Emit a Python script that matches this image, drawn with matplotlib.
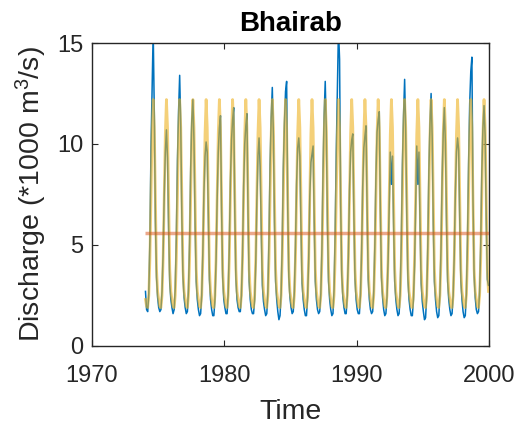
import numpy as np
import matplotlib
matplotlib.use("Agg")
import matplotlib.pyplot as plt

plt.rcParams['font.family'] = ['Liberation Sans', 'DejaVu Sans']
plt.rcParams['mathtext.fontset'] = 'custom'
plt.rcParams['mathtext.rm'] = 'Liberation Sans'
plt.rcParams['mathtext.it'] = 'Liberation Sans'

# Data (values in *1000 m^3/s)
start_year = 1974
observed = [
    [2.7, 1.8, 1.7, 2.6, 5.2, 9.8, 12.6, 15.6, 11.5, 6.2, 3.4, 2.4],   # 1974
    [1.9, 1.7, 1.8, 2.7, 4.6, 7.5, 9.6, 10.7, 9.3, 5.8, 3.1, 2.3],     # 1975
    [1.9, 1.6, 1.8, 2.9, 5.4, 9.2, 11.6, 13.4, 10.8, 6.3, 3.4, 2.4],   # 1976
    [1.9, 1.6, 1.7, 2.8, 5.1, 8.8, 11.2, 12.2, 10.1, 6.0, 3.2, 2.3],   # 1977
    [1.8, 1.5, 1.6, 2.5, 4.6, 7.6, 9.4, 10.1, 9.6, 6.4, 3.3, 2.3],     # 1978
    [1.8, 1.5, 1.5, 2.3, 4.2, 7.3, 9.6, 10.8, 11.4, 6.8, 3.4, 2.3],    # 1979
    [1.9, 1.6, 1.6, 2.6, 4.9, 8.1, 10.2, 11.2, 11.8, 6.6, 3.3, 2.3],   # 1980
    [1.9, 1.7, 1.7, 2.5, 4.5, 7.9, 10.0, 10.9, 11.5, 6.5, 3.2, 2.3],   # 1981
    [1.8, 1.6, 1.6, 2.3, 4.1, 7.2, 9.4, 10.3, 8.9, 5.7, 3.0, 2.2],     # 1982
    [1.8, 1.5, 1.6, 2.7, 5.3, 9.0, 11.3, 12.8, 10.4, 6.1, 3.2, 2.3],   # 1983
    [1.7, 1.3, 1.5, 2.6, 5.0, 8.8, 11.0, 12.6, 13.1, 6.8, 3.4, 2.4],   # 1984
    [1.9, 1.6, 1.7, 2.7, 4.9, 8.0, 9.8, 10.3, 9.4, 5.9, 3.1, 2.3],     # 1985
    [1.8, 1.5, 1.5, 2.4, 4.3, 7.4, 9.1, 9.5, 9.9, 6.2, 3.2, 2.3],      # 1986
    [1.8, 1.6, 1.7, 2.6, 4.8, 8.6, 11.4, 13.1, 10.6, 6.1, 3.2, 2.3],   # 1987
    [1.8, 1.5, 1.6, 2.8, 5.6, 9.6, 12.8, 15.7, 14.2, 7.0, 3.5, 2.4],   # 1988
    [1.9, 1.6, 1.6, 2.5, 4.5, 7.7, 9.6, 10.2, 10.5, 6.4, 3.3, 2.3],    # 1989
    [1.8, 1.6, 1.6, 2.6, 4.7, 7.9, 9.8, 10.4, 10.9, 6.6, 3.3, 2.3],    # 1990
    [1.8, 1.6, 1.7, 2.7, 5.0, 8.5, 10.6, 11.2, 11.6, 6.7, 3.4, 2.4],   # 1991
    [1.8, 1.5, 1.6, 2.4, 4.2, 7.0, 9.6, 8.0, 9.4, 6.0, 3.2, 2.3],      # 1992
    [1.8, 1.5, 1.6, 2.7, 5.2, 9.0, 11.4, 13.2, 10.5, 6.2, 3.3, 2.3],   # 1993
    [1.8, 1.5, 1.5, 2.3, 4.0, 7.0, 9.9, 8.0, 9.6, 5.9, 3.1, 2.2],      # 1994
    [1.7, 1.3, 1.4, 2.5, 4.9, 8.7, 11.0, 12.5, 10.3, 6.0, 3.2, 2.3],   # 1995
    [1.7, 1.4, 1.5, 2.6, 4.8, 8.3, 10.5, 11.8, 10.0, 6.1, 3.2, 2.3],   # 1996
    [1.8, 1.5, 1.6, 2.5, 4.5, 7.6, 9.6, 10.3, 9.7, 6.2, 3.2, 2.3],     # 1997
    [1.7, 1.4, 1.5, 2.6, 5.2, 9.0, 12.0, 13.6, 14.3, 7.2, 3.5, 2.4],   # 1998
    [1.8, 1.6, 1.7, 2.7, 5.0, 8.6, 10.8, 11.9, 10.4, 6.3, 3.3, 3.0],   # 1999
]
climatology = [2.3, 1.95, 1.9, 2.5, 4.3, 7.5, 10.5, 12.2, 10.8, 7.2, 3.8, 2.7]
mean_flow = 5.6
x_ticks = [1970, 1980, 1990, 2000]
y_ticks = [0, 5, 10, 15]

n_years = len(observed)
obs = np.array(observed).ravel()
t = start_year + (np.arange(n_years * 12) + 0.5) / 12.0
clim = np.tile(climatology, n_years)

fig = plt.figure(figsize=(5.18, 4.25), dpi=100)
ax = fig.add_axes([0.1776, 0.186, 0.7664, 0.7128])

ax.plot(t, obs, color='#0072BD', lw=1.1, zorder=2)
ax.plot(t, clim, color='#EDB120', lw=2.0, alpha=0.6, zorder=3)
ax.plot([start_year, start_year + n_years], [mean_flow, mean_flow],
        color='#D95319', lw=2.5, alpha=0.5, zorder=4, solid_capstyle='butt')

ax.set_xlim(1970, 2000)
ax.set_ylim(0, 15)
ax.set_xticks(x_ticks)
ax.set_yticks(y_ticks)

for s in ax.spines.values():
    s.set_color('#262626')
    s.set_linewidth(1.0)
ax.tick_params(direction='in', length=4, width=0.8, colors='#262626',
               top=True, right=True, labelsize=17)
ax.tick_params(axis='x', pad=14)
ax.tick_params(axis='y', pad=6)
for lab in ax.get_xticklabels() + ax.get_yticklabels():
    lab.set_color('#262626')

ax.set_title('Bhairab', fontsize=20, fontweight='bold', color='black', pad=9)
ax.set_xlabel('Time', fontsize=20.5, color='#262626', labelpad=8)
ax.set_ylabel('Discharge (*1000 m$^3$/s)', fontsize=20.5, color='#262626', labelpad=6)

fig.savefig('out.png', dpi=100)
